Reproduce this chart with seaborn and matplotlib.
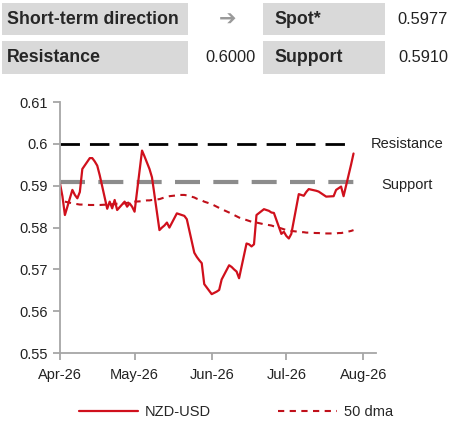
import matplotlib
matplotlib.use("Agg")
import matplotlib.pyplot as plt
import matplotlib.dates as mdates
from matplotlib.patches import Rectangle
from matplotlib.ticker import MultipleLocator
import numpy as np
import pandas as pd
import seaborn as sns

# business days shown on the chart
dates = pd.bdate_range("2026-04-01", "2026-07-28")

# NZD-USD spot
spot = [
    # April
    0.5906, 0.5875, 0.5830, 0.5890, 0.5878, 0.5870, 0.5885, 0.5940, 0.5966, 0.5966,
    0.5958, 0.5948, 0.5925, 0.5845, 0.5862, 0.5846, 0.5866, 0.5842, 0.5862, 0.5850,
    0.5858, 0.5850,
    # May
    0.5838, 0.5984, 0.5970, 0.5955, 0.5940, 0.5920, 0.5794, 0.5800, 0.5805, 0.5812,
    0.5800, 0.5834, 0.5832, 0.5830, 0.5828, 0.5820, 0.5740, 0.5730, 0.5722, 0.5715,
    0.5665,
    # June
    0.5641, 0.5644, 0.5647, 0.5651, 0.5676, 0.5710, 0.5706, 0.5700, 0.5695, 0.5679,
    0.5762, 0.5760, 0.5755, 0.5760, 0.5830, 0.5844, 0.5842, 0.5840, 0.5836, 0.5835,
    0.5785, 0.5790,
    # July
    0.5780, 0.5774, 0.5785, 0.5880, 0.5878, 0.5876, 0.5885, 0.5892, 0.5888, 0.5886,
    0.5882, 0.5878, 0.5874, 0.5875, 0.5890, 0.5894, 0.5898, 0.5875, 0.5950, 0.5977,
]

# 50 day moving average
dma = [
    np.nan, np.nan, 0.5862, 0.5858, 0.5857, 0.5856, 0.5855, 0.5855, 0.5854, 0.5854,
    0.5854, 0.5854, 0.5854, 0.5855, 0.5855, 0.5856, 0.5856, 0.5857, 0.5858, 0.5859,
    0.5860, 0.5861,
    0.5862, 0.5863, 0.5864, 0.5865, 0.5865, 0.5866, 0.5868, 0.5870, 0.5872, 0.5874,
    0.5875, 0.5877, 0.5878, 0.5878, 0.5878, 0.5877, 0.5872, 0.5869, 0.5867, 0.5865,
    0.5862,
    0.5856, 0.5853, 0.5850, 0.5847, 0.5844, 0.5836, 0.5833, 0.5830, 0.5827, 0.5824,
    0.5818, 0.5816, 0.5814, 0.5813, 0.5812, 0.5808, 0.5807, 0.5806, 0.5805, 0.5803,
    0.5798, 0.5796,
    0.5794, 0.5793, 0.5792, 0.5790, 0.5789, 0.5789, 0.5788, 0.5788, 0.5787, 0.5787,
    0.5786, 0.5786, 0.5786, 0.5786, 0.5786, 0.5787, 0.5787, 0.5788, 0.5792, 0.5794,
]

resistance = 0.6000
support = 0.5910
spot_now = 0.5977

df = pd.DataFrame({"date": dates, "spot": spot, "dma": dma})
df["res"] = resistance
df["sup"] = support

sns.set_style("ticks")
plt.rcParams["font.family"] = ["Liberation Sans", "DejaVu Sans"]

fig = plt.figure(figsize=(4.54, 4.36), dpi=100)
ax = fig.add_axes([0.132, 0.19, 0.696, 0.576])

red = "#d0101c"
sns.lineplot(data=df, x="date", y="res", ax=ax, color="black", lw=2.0,
             label="_res").lines[-1].set_dashes([7, 3.6])
sns.lineplot(data=df, x="date", y="sup", ax=ax, color="#8c8c8c", lw=3.0,
             label="_sup").lines[-1].set_dashes([6, 3.2])
sns.lineplot(data=df, x="date", y="dma", ax=ax, color="#c0101a", lw=1.5,
             label="50 dma").lines[-1].set_dashes([3, 2.6])
sns.lineplot(data=df, x="date", y="spot", ax=ax, color=red, lw=1.6,
             label="NZD-USD")

ax.set_xlim(pd.Timestamp("2026-04-01"), pd.Timestamp("2026-08-06"))
ax.set_ylim(0.55, 0.61)
ax.yaxis.set_major_locator(MultipleLocator(0.01))
ax.set_yticks(np.round(np.arange(0.55, 0.6101, 0.01), 2))
ax.set_yticklabels([f"{v:g}" for v in np.round(ax.get_yticks(), 2)])
ax.xaxis.set_major_locator(mdates.MonthLocator())
ax.xaxis.set_major_formatter(mdates.DateFormatter("%b-%y"))
ax.set_xlabel("")
ax.set_ylabel("")
sns.despine(ax=ax)
for s in ["left", "bottom"]:
    ax.spines[s].set_color("#a6a6a6")
    ax.spines[s].set_linewidth(1.3)
ax.tick_params(axis="both", colors="#a6a6a6", labelcolor="#222222",
               labelsize=10.5, length=5, width=1.3)
ax.tick_params(axis="x", pad=6)

ax.text(1.10, resistance, "Resistance", transform=ax.get_yaxis_transform(),
        ha="center", va="center", fontsize=10.5, color="#222222", clip_on=False)
ax.text(1.10, support - 0.0008, "Support", transform=ax.get_yaxis_transform(),
        ha="center", va="center", fontsize=10.5, color="#222222", clip_on=False)

handles, labels = ax.get_legend_handles_labels()
order = [labels.index("NZD-USD"), labels.index("50 dma")]
ax.legend([handles[i] for i in order], [labels[i] for i in order],
          loc="upper center", bbox_to_anchor=(0.558, -0.155), ncol=2,
          frameon=False, fontsize=10.5, handlelength=4.0, columnspacing=4.6,
          handletextpad=0.5)

# header boxes
box = "#d9d9d9"
H = 436.0
W = 454.0
for x0, x1, y0, y1 in [(2, 188, 3, 35), (263, 385, 3, 35),
                       (2, 188, 41, 74), (263, 385, 41, 74)]:
    fig.patches.append(Rectangle((x0 / W, 1 - y1 / H), (x1 - x0) / W, (y1 - y0) / H,
                                 transform=fig.transFigure, facecolor=box,
                                 edgecolor="none", zorder=0))

r1 = 1 - 19.5 / H
r2 = 1 - 57.5 / H
hs = 12.8
fig.text(7 / W, r1, "Short-term direction", fontsize=hs, fontweight="bold",
         va="center", ha="left")
fig.text(274 / W, r1, "Spot*", fontsize=hs, fontweight="bold", va="center", ha="left")
fig.text(7 / W, r2, "Resistance", fontsize=hs, fontweight="bold", va="center", ha="left")
fig.text(274 / W, r2, "Support", fontsize=hs, fontweight="bold", va="center", ha="left")
fig.text(448 / W, r1, f"{spot_now:.4f}", fontsize=11.8, va="center", ha="right",
         color="#222222")
fig.text(256 / W, r2, f"{resistance:.4f}", fontsize=11.8, va="center", ha="right",
         color="#222222")
fig.text(448 / W, r2, f"{support:.4f}", fontsize=11.8, va="center", ha="right",
         color="#222222")
fig.text(228 / W, r1, "\u2794", fontsize=15, va="center", ha="center",
         color="#9a9a9a", family=["DejaVu Sans"])

fig.savefig("out.png", dpi=100)
